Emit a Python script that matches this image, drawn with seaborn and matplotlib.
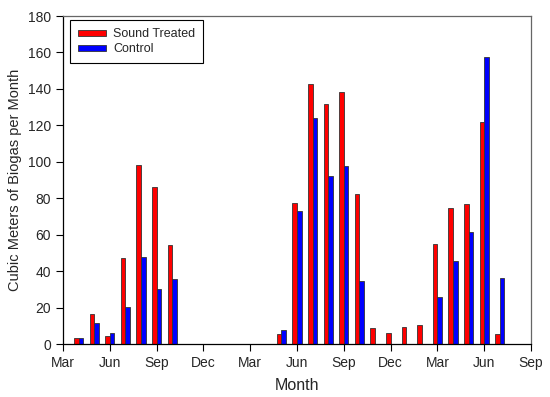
import numpy as np
import pandas as pd
import matplotlib
matplotlib.use('Agg')
import matplotlib.pyplot as plt
import seaborn as sns

# Month index: 0 = Mar of year 1 ... 30 = Sep of year 3
months = [1, 2, 3, 4, 5, 6, 7,
          14, 15, 16, 17, 18, 19, 20, 21, 22, 23, 24, 25, 26, 27, 28]
sound_treated = [3.1, 16.3, 4.4, 47.2, 98.2, 86.3, 54.2,
                 5.5, 77.6, 142.7, 131.7, 138.5, 82.2, 8.7, 6.2, 9.3, 10.4,
                 54.7, 74.5, 76.8, 121.7, 5.3]
control = [3.1, 11.4, 6.2, 20.1, 47.6, 30.2, 35.7,
           7.7, 73.0, 123.9, 92.4, 97.9, 34.4, np.nan, np.nan, np.nan, np.nan,
           25.6, 45.6, 61.3, 157.7, 36.2]
tick_pos = list(range(0, 31, 3))
tick_labels = ['Mar', 'Jun', 'Sep', 'Dec', 'Mar', 'Jun', 'Sep', 'Dec', 'Mar', 'Jun', 'Sep']

df = pd.DataFrame({
    'Month': months * 2,
    'Biogas': sound_treated + control,
    'Group': ['Sound Treated'] * len(months) + ['Control'] * len(months),
})

sns.set_style('ticks')
plt.rcParams['font.family'] = ['Liberation Sans', 'DejaVu Sans']

fig, ax = plt.subplots(figsize=(5.5, 3.97), dpi=100)
fig.subplots_adjust(left=63 / 550, right=531 / 550, top=1 - 16 / 397, bottom=1 - 344 / 397)

sns.barplot(data=df, x='Month', y='Biogas', hue='Group', native_scale=True,
            palette={'Sound Treated': '#ff0000', 'Control': '#0000ff'},
            hue_order=['Sound Treated', 'Control'], width=0.6, saturation=1,
            edgecolor='#333333', linewidth=0.6, ax=ax)

ax.set_xlim(0, 30)
ax.set_ylim(0, 180)
ax.set_xticks(tick_pos)
ax.set_xticklabels(tick_labels)
ax.set_yticks(range(0, 181, 20))
ax.tick_params(labelsize=10, length=5, width=0.8, color='black')
ax.set_xlabel('Month', fontsize=11.5, labelpad=6)
ax.set_ylabel('Cubic Meters of Biogas per Month', fontsize=10.5, labelpad=4)

for side in ['left', 'bottom']:
    ax.spines[side].set_color('black')
    ax.spines[side].set_linewidth(0.9)
for side in ['top', 'right']:
    ax.spines[side].set_visible(True)
    ax.spines[side].set_color('#666666')
    ax.spines[side].set_linewidth(0.9)

leg = ax.legend(loc='upper left', bbox_to_anchor=(7 / 468, 1 - 4 / 328), borderaxespad=0,
                fontsize=9, handlelength=2.25, handleheight=0.4, handletextpad=0.55,
                fancybox=False, edgecolor='black', framealpha=1, borderpad=0.65,
                labelspacing=0.25)
leg.get_frame().set_linewidth(0.8)

fig.savefig('out.png', dpi=100)
